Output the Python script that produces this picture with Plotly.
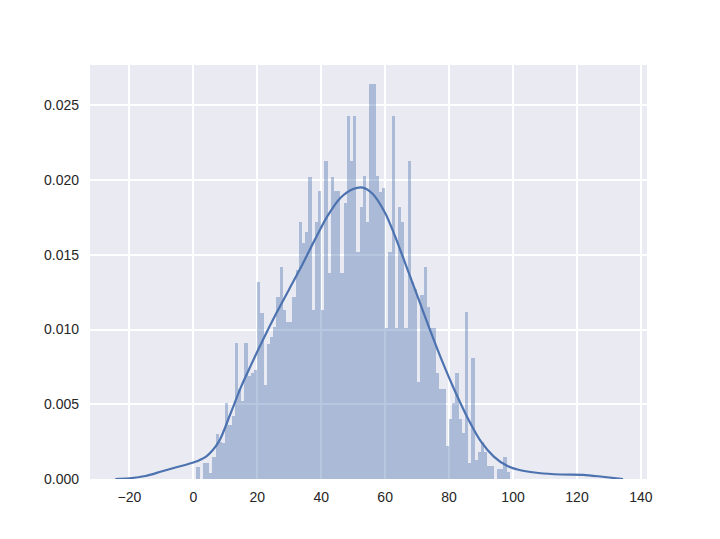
import plotly.graph_objs as go

# histogram: one bin per unit, left edges 1..98
bin_left = list(range(1, 99))
density = [
    0.0008, 0.0, 0.0011, 0.0011, 0.0004, 0.0015, 0.0030, 0.0025, 0.0024, 0.0051,
    0.0036, 0.0042, 0.0091, 0.0060, 0.0052, 0.0091, 0.0069, 0.0071, 0.0073, 0.0132,
    0.0111, 0.0063, 0.0090, 0.0095, 0.0102, 0.0122, 0.0142, 0.0113, 0.0105, 0.0105,
    0.0122, 0.0140, 0.0172, 0.0158, 0.0165, 0.0202, 0.0113, 0.0172, 0.0193, 0.0113,
    0.0213, 0.0138, 0.0202, 0.0193, 0.0193, 0.0138, 0.0185, 0.0243, 0.0213, 0.0243,
    0.0152, 0.0182, 0.0203, 0.0172, 0.0264, 0.0264, 0.0203, 0.0192, 0.0195, 0.0101,
    0.0152, 0.0243, 0.0101, 0.0182, 0.0172, 0.0101, 0.0213, 0.0132, 0.0127, 0.0065,
    0.0123, 0.0142, 0.0115, 0.0101, 0.0101, 0.0071, 0.0060, 0.0060, 0.0022, 0.0040,
    0.0051, 0.0071, 0.0040, 0.0031, 0.0112, 0.0011, 0.0081, 0.0013, 0.0018, 0.0025,
    0.0018, 0.0009, 0.0009, 0.0, 0.0007, 0.0007, 0.0015, 0.0005,
]

# kde curve
kde_x = [-24.4, -20, -15, -10, -5, 0, 4, 8, 11.5, 15, 18, 22, 26, 30, 34,
         38, 42, 46, 50, 53, 56, 60, 63, 66, 70, 74, 78, 82, 86,
         90, 94, 98, 102, 108, 115, 122, 128, 134.4]
kde_y = [0.0, 0.00005, 0.0002, 0.0005, 0.0008, 0.0011, 0.0015, 0.0025, 0.0043, 0.0062,
         0.0076, 0.0094, 0.0111, 0.0127, 0.0143, 0.0160, 0.0176, 0.0188, 0.0194, 0.0195,
         0.0191, 0.0178, 0.0163, 0.0146, 0.0123, 0.0100, 0.0078, 0.0058, 0.0040,
         0.0025, 0.0015, 0.0009, 0.0006, 0.0004, 0.0003, 0.00028, 0.00015, 0.0]

x_ticks = [-20, 0, 20, 40, 60, 80, 100, 120, 140]
y_ticks = [0.000, 0.005, 0.010, 0.015, 0.020, 0.025]

fig = go.Figure()
fig.add_trace(go.Bar(x=bin_left, y=density, offset=0, width=1,
                     marker=dict(color='rgba(76,114,176,0.4)', line=dict(width=0)),
                     hoverinfo='skip'))
fig.add_trace(go.Scatter(x=kde_x, y=kde_y, mode='lines',
                         line=dict(color='#4C72B0', width=2.2, shape='spline', smoothing=0.8)))

# page body has an 8px margin, so margins are shifted to match
fig.update_layout(
    width=720, height=539,
    margin=dict(l=82, r=81, t=57, b=68),
    paper_bgcolor='white',
    plot_bgcolor='#EAEAF2',
    showlegend=False,
    bargap=0,
    font=dict(family='Liberation Sans, Arial, sans-serif', size=14, color='#262626'),
    xaxis=dict(range=[-32.3, 141.9], tickvals=x_ticks, showgrid=True,
               gridcolor='white', gridwidth=1.5, zeroline=False, showline=False,
               ticks='', ticklabelstandoff=8),
    yaxis=dict(range=[0, 0.0277], tickvals=y_ticks, tickformat='.3f', showgrid=True,
               gridcolor='white', gridwidth=1.5, zeroline=False, showline=False,
               ticks='', ticklabelstandoff=10),
)

fig.write_html("out.html")
